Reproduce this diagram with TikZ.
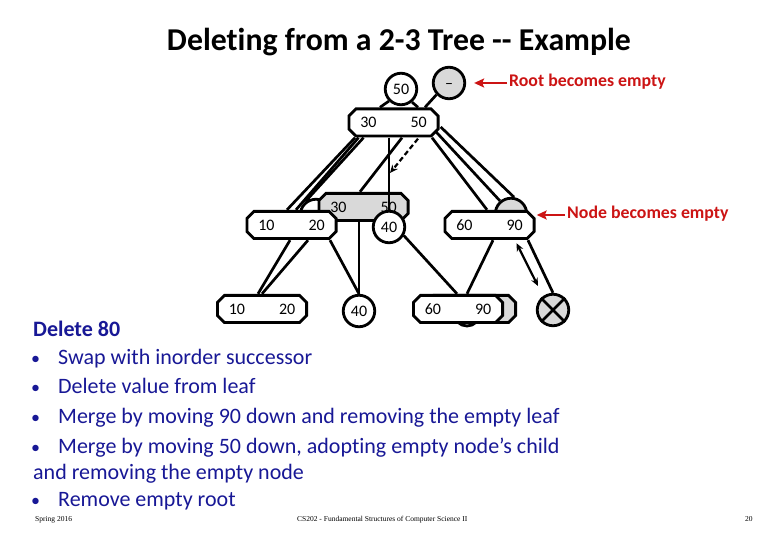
\documentclass[tikz,border=0pt]{standalone}
\usepackage{fontspec}
\setmainfont{Carlito}[Ligatures={NoCommon,TeXOff}]
\newfontfamily\footfont{Liberation Serif}
\usetikzlibrary{arrows.meta,calc}
\pgfdeclarelayer{background}
\pgfsetlayers{background,main}
\definecolor{nodegray}{RGB}{217,217,217}
\definecolor{textblue}{RGB}{24,24,150}
\definecolor{alertred}{RGB}{204,20,20}
\begin{document}
\begin{tikzpicture}[x=1pt,y=-1pt,
  octbox/.style={rectangle, minimum width=92pt, minimum height=30pt, inner sep=0pt,
    font=\fontsize{16}{16}\selectfont,
    path picture={
      \filldraw[fill=#1, line width=2.8pt, line join=miter]
        ([xshift=8.4pt,yshift=-1.4pt]path picture bounding box.north west) --
        ([xshift=-8.4pt,yshift=-1.4pt]path picture bounding box.north east) --
        ([xshift=-1.4pt,yshift=-8.4pt]path picture bounding box.north east) --
        ([xshift=-1.4pt,yshift=8.4pt]path picture bounding box.south east) --
        ([xshift=-8.4pt,yshift=1.4pt]path picture bounding box.south east) --
        ([xshift=8.4pt,yshift=1.4pt]path picture bounding box.south west) --
        ([xshift=1.4pt,yshift=8.4pt]path picture bounding box.south west) --
        ([xshift=1.4pt,yshift=-8.4pt]path picture bounding box.north west) -- cycle;
    }},
  keybox/.style={octbox=white},
  graybox/.style={octbox=nodegray},
  keycirc/.style={circle, draw, line width=2.8pt, fill=white, minimum size=31.5pt, inner sep=0pt,
    font=\fontsize{16}{16}\selectfont},
  graycirc/.style={keycirc, fill=nodegray},
  edge/.style={line width=2.7pt},
  dashedarrow/.style={line width=2.2pt, dash pattern=on 5pt off 3pt, -{Stealth[length=8pt,width=7pt]}},
  dblarrow/.style={line width=2.2pt, {Stealth[length=8pt,width=7pt]}-{Stealth[length=8pt,width=7pt]}},
  redarrow/.style={draw=alertred, line width=2.8pt, -{Stealth[length=10pt,width=9pt,inset=2pt]}},
  redlabel/.style={anchor=base west, inner sep=0pt, text=alertred, font=\fontsize{17.8}{18}\selectfont\bfseries},
  bodytext/.style={anchor=base west, inner sep=0pt, text=textblue, font=\fontsize{22}{24}\selectfont},
  bullet/.style={anchor=base west, inner sep=0pt, text=textblue, font=\fontsize{18}{18}\selectfont},
  foottext/.style={anchor=base west, inner sep=0pt, font=\fontsize{7.5}{8}\footfont},
]
\useasboundingbox (0,0) rectangle (780,540);
\begin{pgfonlayer}{background}
\fill[white] (0,0) rectangle (780,540);
\end{pgfonlayer}

% title
\node[anchor=base, inner sep=0pt, font=\fontsize{31.8}{32}\selectfont\bfseries] (title) at (399,51) {Deleting from a 2-3 Tree -- Example};

% top level
\node[keycirc] (root50) at (401,89) {50};
\node[graycirc] (rootE) at (449,83) {\raisebox{-5.5pt}[0pt][0pt]{–}};
\node[keybox] (T) at (393.5,122.5) {30\hspace{34pt}50};

% middle level
\node[keybox] (M1) at (291.5,225) {10\hspace{34pt}20};
\node[keycirc] (M40) at (389,227) {40};
\node[graycirc] (H2) at (511,214) {};
\node[keybox] (M2) at (489.5,225) {60\hspace{34pt}90};

% bottom level
\node[keycirc, minimum size=26pt] (H3) at (467,313) {};
\node[graybox] (B3g) at (471,309) {};
\node[keybox] (B3) at (458,309) {60\hspace{34pt}90};
\node[keybox] (B1) at (262,309) {10\hspace{34pt}20};
\node[keycirc] (B40) at (359,311) {40};
\node[graycirc] (X) at (553,310) {};
\draw[line width=2.8pt] (X.45) -- (X.225);
\draw[line width=2.8pt] (X.135) -- (X.315);

\coordinate (dashend) at (390,173);
\coordinate (dblend) at (538,286);

\begin{pgfonlayer}{background}
\node[keycirc] (H1) at (316,215) {};
\node[graybox] (G) at (363.5,207) {30\hspace{34pt}50};
\draw[edge] (root50.225) -- ($(T.north)+(-13.5,0)$);
\draw[edge] (root50.310) -- ($(T.north)+(24.5,0)$);
\draw[edge] (rootE.223) -- ($(T.north)+(31.5,0)$);
\draw[edge] ($(T.south)+(-38.5,0)$) -- ($(M1.north)+(-4.5,0)$);
\draw[edge] ($(T.south)+(-35,0)$) -- ($(M1.north)+(4.5,0)$);
\draw[edge] ($(T.south)+(-30,0)$) -- (H1.128);
\draw[edge] ($(T.south)+(-4.5,0)$) -- (M40.north);
\draw[edge] ($(T.south)+(8.5,0)$) -- ($(G.north)+(-3.5,0)$);
\draw[dashedarrow] ($(T.south)+(24.5,1)$) -- (dashend);
\draw[edge] ($(T.south)+(38.5,0)$) -- ($(M2.north)+(-2.5,0)$);
\draw[edge] ($(T.east)+(-4,9)$) -- (H2.130);
\draw[edge] ($(T.east)+(1,4.5)$) -- (H2.80);
\draw[edge] ($(M1.south)+(-1.5,0)$) -- ($(B1.north)+(-4,0)$);
\draw[edge] ($(M1.south)+(16.5,0)$) -- (B1.north);
\draw[edge] ($(M1.south)+(38.5,0)$) -- (B40.north);
\draw[edge] ($(G.south)+(-4.5,0)$) -- (B40.north);
\draw[edge] (M40.330) -- ($(B3.north)+(-1,0)$);
\draw[edge] ($(M2.south)+(3.5,0)$) -- ($(B3.north)+(9,0)$);
\draw[dblarrow] ($(M2.south)+(27,3)$) -- (dblend);
\draw[edge] ($(M2.south)+(38.5,0)$) -- (X.north);
\end{pgfonlayer}

% red annotations
\node[redlabel] (rlabel) at (509,86.5) {Root becomes empty};
\node[redlabel] (nlabel) at (567,219) {Node becomes empty};
\coordinate (tip1) at ($(rootE.east)+(8,0)$);
\coordinate (tip2) at ($(M2.east)+(1,-10)$);
\draw[redarrow] ($(rlabel.west |- tip1)+(-2,0)$) -- (tip1);
\draw[redarrow] ($(nlabel.west |- tip2)+(-2,0)$) -- (tip2);

% text
\node[anchor=base west, inner sep=0pt, text=textblue, font=\fontsize{22}{24}\selectfont\bfseries] (del) at (33,337) {Delete 80};
\node[bullet] (b1) at (31,365) {•};
\node[bodytext] (t1) at (58,365) {Swap with inorder successor};
\node[bullet] (b2) at (31,393) {•};
\node[bodytext] (t2) at (58,393) {Delete value from leaf};
\node[bullet] (b3) at (31,424) {•};
\node[bodytext] (t3) at (58,424) {Merge by moving 90 down and removing the empty leaf};
\node[bullet] (b4) at (31,453) {•};
\node[bodytext] (t4) at (58,453) {Merge by moving 50 down, adopting empty node’s child};
\node[bodytext] (t5) at (33,479) {and removing the empty node};
\node[bullet] (b6) at (31,506) {•};
\node[bodytext] (t6) at (58,506) {Remove empty root};

% footer
\node[foottext] (f1) at (35,521) {Spring 2016};
\node[foottext] (f2) at (297,521) {CS202 - Fundamental Structures of Computer Science II};
\node[foottext] (f3) at (745,521) {20};
\end{tikzpicture}
\end{document}
